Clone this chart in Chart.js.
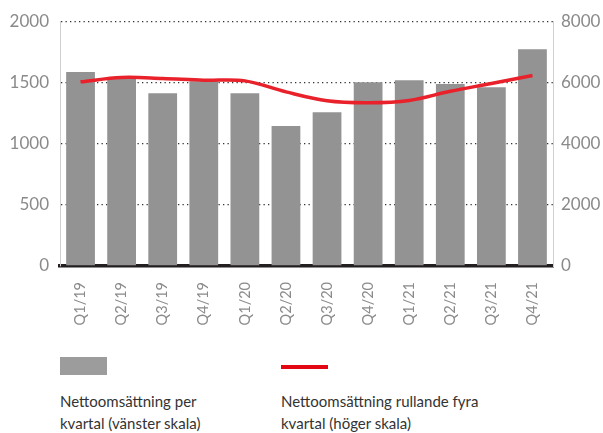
<!DOCTYPE html>
<html>
<head>
<meta charset="utf-8">
<script src="https://cdn.jsdelivr.net/npm/chart.js@4"></script>
<style>
  body { margin: 0; background: #fff; width: 603px; height: 433px; overflow: hidden; font-family: Lato, "DejaVu Sans", sans-serif; }
  #wrap { position: relative; width: 603px; height: 340px; }
  .legend { position: absolute; top: 357px; font-size: 15px; color: #333; line-height: 22px; }
  .swatch-bar { width: 47px; height: 18px; background: #9c9c9c; margin-bottom: 15px; }
  .swatch-line { width: 47px; height: 4px; background: #e30613; margin: 8px 0 21px 0; }
</style>
</head>
<body>
<div id="wrap"><canvas id="chart" width="603" height="340"></canvas></div>
<div class="legend" style="left:60px">
  <div class="swatch-bar"></div>
  <div>Nettoomsättning per<br>kvartal (vänster skala)</div>
</div>
<div class="legend" style="left:281px">
  <div class="swatch-line"></div>
  <div>Nettoomsättning rullande fyra<br>kvartal (höger skala)</div>
</div>
<script>
const quarters = ['Q1/19', 'Q2/19', 'Q3/19', 'Q4/19', 'Q1/20', 'Q2/20', 'Q3/20', 'Q4/20', 'Q1/21', 'Q2/21', 'Q3/21', 'Q4/21'];
const perQuarter = [1584, 1527, 1412, 1510, 1412, 1143, 1257, 1502, 1518, 1486, 1461, 1771];
const rolling4q = [6018, 6160, 6127, 6070, 6050, 5690, 5400, 5335, 5410, 5710, 5965, 6226];
const leftTicks = [0, 500, 1000, 1500, 2000];
const rightTicks = [0, 2000, 4000, 6000, 8000];

const ctx = document.getElementById('chart').getContext('2d');

const config = {
  type: 'bar',
  data: {
    labels: quarters,
    datasets: [{
      type: 'line',
      label: 'Nettoomsättning rullande fyra kvartal (höger skala)',
      data: rolling4q,
      yAxisID: 'y2',
      borderColor: '#e8212b',
      borderWidth: 3.5,
      pointRadius: 0,
      tension: 0.35,
      order: 0
    }, {
      label: 'Nettoomsättning per kvartal (vänster skala)',
      data: perQuarter,
      yAxisID: 'y',
      backgroundColor: '#939393',
      barPercentage: 0.7,
      categoryPercentage: 1,
      order: 1
    }]
  },
  options: {
    responsive: false,
    animation: false,
    layout: { padding: { top: 12 } },
    plugins: {
      legend: { display: false },
      tooltip: { enabled: false }
    },
    scales: {
      x: {
        z: 1,
        grid: { display: false },
        // thick black baseline at zero
        border: { display: true, color: '#231f20', width: 3.5 },
        ticks: {
          color: '#8a8a8a',
          font: { family: 'Lato', size: 14.5 },
          minRotation: 90,
          maxRotation: 90,
          padding: 8
        },
        afterFit: function(scale) { scale.height = 74; }
      },
      y: {
        position: 'left',
        min: 0,
        max: 2000,
        afterBuildTicks: function(scale) { scale.ticks = leftTicks.map(v => ({ value: v })); },
        ticks: {
          color: '#8a8a8a',
          font: { family: 'Lato', size: 17 },
          padding: 11,
          callback: v => String(v)
        },
        border: { display: true, color: '#d0d0d0', width: 1, dash: [1.3, 3.2] },
        grid: {
          drawTicks: false,
          color: function(c) { return c.tick.value === 0 ? 'rgba(0,0,0,0)' : '#333'; },
          lineWidth: 1.3
        },
        afterFit: function(scale) { scale.width = 60; }
      },
      y2: {
        position: 'right',
        min: 0,
        max: 8000,
        afterBuildTicks: function(scale) { scale.ticks = rightTicks.map(v => ({ value: v })); },
        ticks: {
          color: '#8a8a8a',
          font: { family: 'Lato', size: 17 },
          padding: 8,
          callback: v => String(v)
        },
        border: { display: true, color: '#d0d0d0', width: 1 },
        grid: { display: false, drawTicks: false },
        afterFit: function(scale) { scale.width = 50; }
      }
    }
  }
};

const myChart = new Chart(ctx, config);
</script>
</body>
</html>
